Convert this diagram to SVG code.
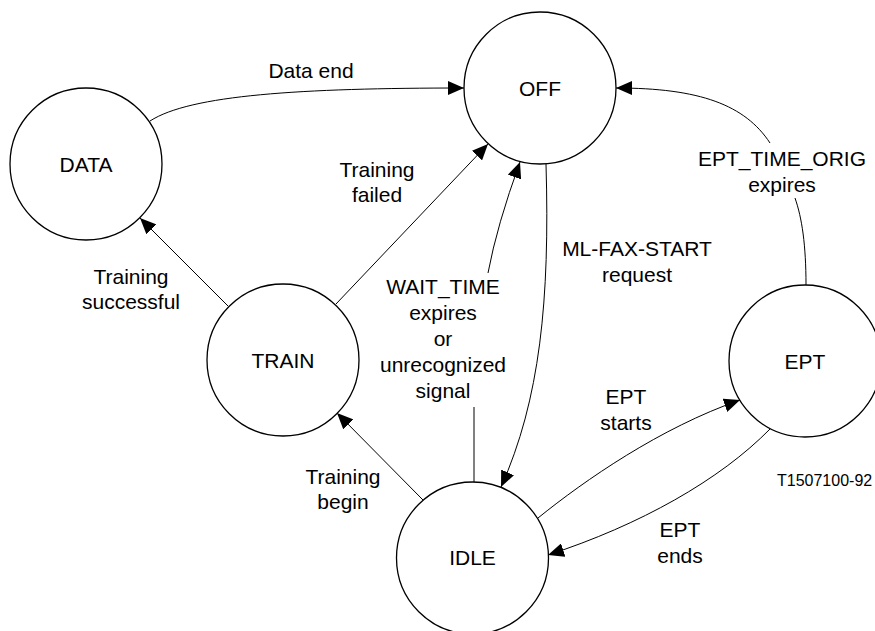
<svg xmlns="http://www.w3.org/2000/svg" width="875" height="631" viewBox="0 0 875 631">
<style>
.node{fill:#fff;stroke:#000;stroke-width:1.3}
.edge{fill:none;stroke:#000;stroke-width:1}
text{font-family:"Liberation Sans",Arial,sans-serif;font-size:21px;fill:#000;text-anchor:middle}
.ref{font-size:16px;text-anchor:start}
</style>
<defs>
<marker id="arr" markerUnits="userSpaceOnUse" markerWidth="16" markerHeight="14" refX="16" refY="7" orient="auto">
<path d="M0,0 L16,7 L0,14 z" fill="#000"/>
</marker>
</defs>
<rect width="875" height="631" fill="#fff"/>
<g id="connectors">
<path class="edge" d="M150,121 C190,95 300,88 464,88" marker-end="url(#arr)"/>
<path class="edge" d="M228,306 L140,218" marker-end="url(#arr)"/>
<path class="edge" d="M336,304 L488,144" marker-end="url(#arr)"/>
<path class="edge" d="M474,482 L474,407 M488,273 Q497,225 520,162" marker-end="url(#arr)"/>
<path class="edge" d="M546,164 C550,300 540,400 501,487" marker-end="url(#arr)"/>
<path class="edge" d="M806,285 C806,245 802,218 795,198 M770,143 C745,105 700,88 616,88" marker-end="url(#arr)"/>
<path class="edge" d="M538,518 C585,480 660,428 740,400" marker-end="url(#arr)"/>
<path class="edge" d="M770,429 C720,480 640,525 548,555" marker-end="url(#arr)"/>
<path class="edge" d="M423,500 L337,413" marker-end="url(#arr)"/>
</g>
<g id="labels">
<text x="311" y="78">Data end</text>
<text x="131" y="284">Training</text>
<text x="131" y="309">successful</text>
<text x="377" y="177">Training</text>
<text x="377" y="202">failed</text>
<text x="443" y="294">WAIT_TIME</text>
<text x="443" y="320">expires</text>
<text x="443" y="346">or</text>
<text x="443" y="372">unrecognized</text>
<text x="443" y="398">signal</text>
<text x="637" y="256">ML-FAX-START</text>
<text x="637" y="282">request</text>
<text x="782" y="166">EPT_TIME_ORIG</text>
<text x="782" y="192">expires</text>
<text x="626" y="404">EPT</text>
<text x="626" y="430">starts</text>
<text x="680" y="537">EPT</text>
<text x="680" y="563">ends</text>
<text x="343" y="484">Training</text>
<text x="343" y="509">begin</text>
<text class="ref" x="777" y="486">T1507100-92</text>
</g>
<g id="node-off"><circle class="node" cx="540" cy="88" r="76"/><text x="540" y="95.5">OFF</text></g>
<g id="node-data"><circle class="node" cx="86" cy="164" r="76"/><text x="86" y="171.5">DATA</text></g>
<g id="node-train"><circle class="node" cx="283" cy="360" r="76"/><text x="283" y="367.5">TRAIN</text></g>
<g id="node-idle"><circle class="node" cx="472.5" cy="558" r="76"/><text x="472.5" y="565">IDLE</text></g>
<g id="node-ept"><circle class="node" cx="805" cy="361" r="76"/><text x="805" y="368.5">EPT</text></g>
</svg>
